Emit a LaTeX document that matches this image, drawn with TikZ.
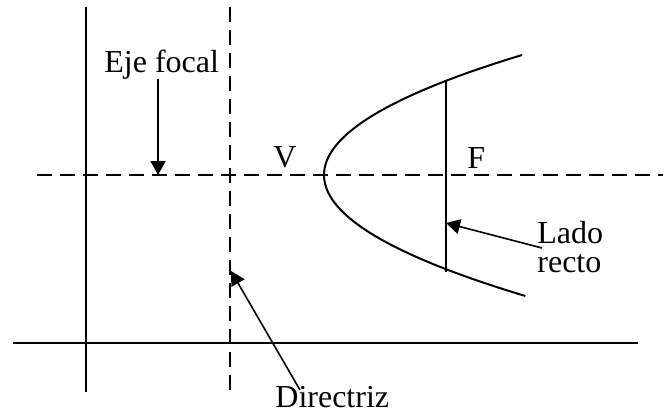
\documentclass[tikz,border=0pt]{standalone}
\usepackage{fontspec}
\setmainfont{Liberation Serif}
\usepackage{tikz}
\usetikzlibrary{arrows.meta,positioning}

\begin{document}
\begin{tikzpicture}[
			x=0.5pt, y=-0.5pt,
			solidline/.style={line width=1pt, black},
			dashline/.style={line width=1pt, black, dash pattern=on 7.5pt off 4pt},
			lbl/.style={inner sep=0pt, font=\fontsize{16}{14.5}\selectfont},
			pointer/.style={-{Triangle[length=7pt, width=7.5pt]}, line width=0.8pt, black}
		]
			\useasboundingbox (0,0) rectangle (670,412);
			
			% ejes y directriz
			\draw[solidline] (86,7) -- (86,392);
			\draw[solidline] (13,343) -- (638,343);
			\draw[dashline] (37,175) -- (663,175);
			\draw[dashline] (230,7) -- (230,392);
			
			% parabola y lado recto
			\draw[solidline] plot[domain=-120:121, samples=61, smooth] ({324+(\x/10)*(\x/10)*100/72.7}, {175+\x});
			\coordinate (lrtop) at (446,80);
			\coordinate (lrbot) at (446,272);
			\draw[solidline] (lrtop) -- (lrbot);
			
			% etiquetas
			\node[lbl, anchor=base west] (efocal) at (104,72) {Eje focal};
			\node[lbl, anchor=base west] (vlabel) at (273,167) {V};
			\node[lbl, anchor=base west] (flabel) at (467,168) {F};
			\node[lbl, anchor=north west, align=left] (lrecto) at (537,221) {Lado\\recto};
			\node[lbl, anchor=base west] (directriz) at (275,407) {Directriz};
			
			% flechas
			\coordinate (efoot) at (158,79);
			\coordinate (etip) at (158,175);
			\coordinate (lfoot) at (542,248);
			\coordinate (ltip) at (446,223);
			\coordinate (dfoot) at (300,390);
			\coordinate (dtip) at (231,271);
			\draw[pointer] (efoot) -- (etip);
			\draw[pointer] (lfoot) -- (ltip);
			\draw[pointer] (dfoot) -- (dtip);
		\end{tikzpicture}
\end{document}
